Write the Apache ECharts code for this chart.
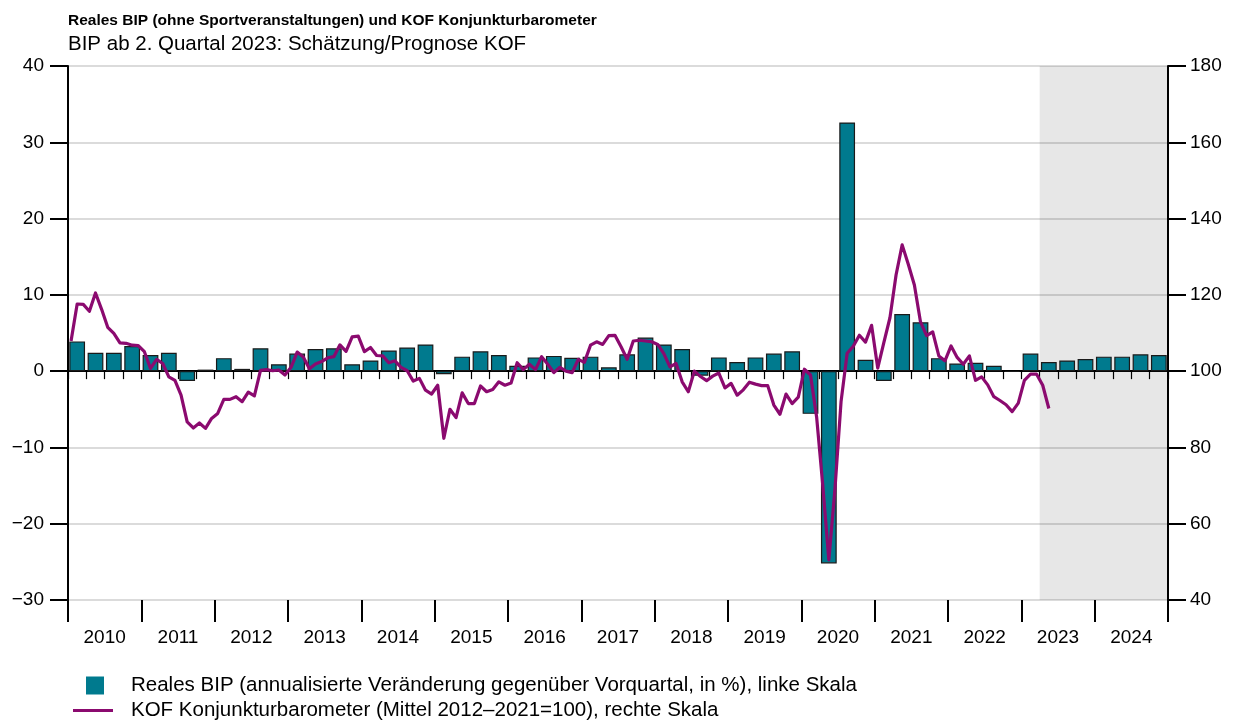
<!DOCTYPE html>
<html><head><meta charset="utf-8">
<script src="https://cdn.jsdelivr.net/npm/echarts@6/dist/echarts.min.js"></script>
<style>html,body{margin:0;padding:0;background:#fff}#c{width:1239px;height:722px}</style>
</head><body><div id="c"></div>
<script>
const titleText = 'Reales BIP (ohne Sportveranstaltungen) und KOF Konjunkturbarometer';
const subtitleText = 'BIP ab 2. Quartal 2023: Schätzung/Prognose KOF';
const bipName = 'Reales BIP (annualisierte Veränderung gegenüber Vorquartal, in %), linke Skala';
const kofName = 'KOF Konjunkturbarometer (Mittel 2012\u20132021=100), rechte Skala';
const years = ['2010','2011','2012','2013','2014','2015','2016','2017','2018','2019','2020','2021','2022','2023','2024'];
const quarters = [];
years.forEach(y => { for (let q = 1; q <= 4; q++) quarters.push(y + 'Q' + q); });
const leftTicks = [-30, -20, -10, 0, 10, 20, 30, 40];
const rightTicks = [40, 60, 80, 100, 120, 140, 160, 180];
const forecastStartQuarter = '2023Q2';

// Reales BIP, quarterly, annualised % change
const bip = [
  3.9, 2.4, 2.4, 3.3,
  2.1, 2.4, -1.3, 0.2,
  1.7, 0.3, 3.0, 0.9,
  2.3, 2.9, 3.0, 0.9,
  1.4, 2.7, 3.1, 3.5,
  -0.4, 1.9, 2.6, 2.1,
  0.7, 1.8, 2.0, 1.75,
  1.9, 0.5, 2.2, 4.4,
  3.5, 2.9, -0.6, 1.8,
  1.2, 1.8, 2.3, 2.6,
  -5.6, -25.2, 32.6, 1.5,
  -1.3, 7.5, 6.4, 1.7,
  1.0, 1.1, 0.7, -0.1,
  2.3, 1.2, 1.4, 1.6,
  1.9, 1.9, 2.2, 2.1
];

// KOF Konjunkturbarometer, monthly from Jan 2010 to May 2023
const kof = [
  107.9,117.6,117.5,115.7,120.5,116.2,111.5,109.9,107.4,107.3,106.8,106.7,
  105.1,100.7,103.1,102.0,98.5,97.6,93.7,86.7,85.1,86.4,85.0,87.6,
  88.9,92.6,92.6,93.3,92.0,94.5,93.5,100.2,100.4,100.1,100.3,99.0,
  101.0,105.0,103.7,100.6,101.9,102.5,103.5,103.8,106.9,105.2,109.0,109.2,
  105.1,106.2,104.1,104.0,102.2,102.7,101.0,100.1,97.4,98.1,95.0,94.0,
  96.3,82.4,90.0,87.8,94.3,91.5,91.5,96.1,94.6,95.2,97.2,96.3,
  96.9,102.2,100.4,101.8,100.4,103.8,101.8,99.6,101.0,100.0,99.6,103.1,
  102.3,106.8,107.7,107.0,109.3,109.4,106.4,103.1,107.9,108.1,107.9,107.7,
  107.0,104.6,101.1,102.0,97.2,94.6,100.0,98.6,97.5,98.7,99.5,95.6,
  96.8,93.7,95.1,97.1,96.6,96.2,96.2,91.1,88.7,94.0,91.5,93.2,
  100.5,99.0,88.0,70.2,50.5,69.0,92.0,104.7,106.5,109.4,107.6,112.0,
  100.8,107.5,114.0,125.2,133.1,128.0,122.6,112.9,109.3,110.3,104.0,102.7,
  106.6,103.6,101.8,104.0,97.6,98.5,96.4,93.3,92.3,91.2,89.4,91.6,
  97.6,99.2,99.2,96.3,90.2
];

const FONT = 'Liberation Sans, Arial, Helvetica, sans-serif';
const totalMonths = quarters.length * 3;
const kofPoints = kof.map((v, i) => [i + 0.5, v]);
const fcStartMonth = quarters.indexOf(forecastStartQuarter) * 3;

const chart = echarts.init(document.getElementById('c'), null, {renderer: 'canvas'});
chart.setOption({
  animation: false,
  backgroundColor: '#fff',
  textStyle: {fontFamily: FONT, color: '#000'},
  graphic: [
    {type: 'text', left: 68, top: 13, silent: true,
     style: {text: titleText, fontFamily: FONT, fontSize: 15.5, fontWeight: 'bold', fill: '#000'}},
    {type: 'text', left: 68, top: 34, silent: true,
     style: {text: subtitleText, fontFamily: FONT, fontSize: 20.5, fill: '#000'}}
  ],
  grid: {left: 68, right: 71, top: 66, bottom: 122, containLabel: false},
  legend: [
    {data: [bipName], left: 86, top: 675, padding: 0, itemWidth: 18, itemHeight: 18, icon: 'rect',
     itemStyle: {borderWidth: 0}, textStyle: {fontFamily: FONT, fontSize: 20.5, color: '#000', padding: [0,0,0,22]}},
    {data: [kofName], left: 73, top: 700, padding: 0, itemWidth: 40, itemHeight: 3, icon: 'rect',
     textStyle: {fontFamily: FONT, fontSize: 20.5, color: '#000', padding: [0,0,0,13]}}
  ],
  xAxis: [
    {type: 'category', data: quarters, position: 'bottom', boundaryGap: true,
     axisLine: {show: true, lineStyle: {color: '#000', width: 2}},
     axisTick: {show: true, interval: 0, length: 8, lineStyle: {color: '#000', width: 1.2}},
     axisLabel: {show: false}, splitLine: {show: false}},
    {type: 'category', data: years, position: 'bottom', boundaryGap: true,
     axisLine: {show: false},
     axisTick: {show: true, interval: 0, length: 22, lineStyle: {color: '#000', width: 2}},
     axisLabel: {show: true, interval: 0, fontFamily: FONT, fontSize: 19, color: '#000', margin: 28},
     splitLine: {show: false}},
    {type: 'value', min: 0, max: totalMonths, show: false, position: 'bottom'}
  ],
  yAxis: [
    {type: 'value', min: leftTicks[0], max: leftTicks[leftTicks.length-1], interval: 10, position: 'left',
     axisLine: {show: true, lineStyle: {color: '#000', width: 2}},
     axisTick: {show: true, length: 18, lineStyle: {color: '#000', width: 2}},
     axisLabel: {fontFamily: FONT, fontSize: 19, color: '#000', margin: 24,
       formatter: v => (v < 0 ? '\u2212' + Math.abs(v) : String(v))},
     splitLine: {show: true, lineStyle: {color: '#cfcfcf', width: 1.5}}},
    {type: 'value', min: rightTicks[0], max: rightTicks[rightTicks.length-1], interval: 20, position: 'right',
     axisLine: {show: true, lineStyle: {color: '#000', width: 2}},
     axisTick: {show: true, length: 18, lineStyle: {color: '#000', width: 2}},
     axisLabel: {fontFamily: FONT, fontSize: 19, color: '#000', margin: 22},
     splitLine: {show: false}}
  ],
  series: [
    {name: 'forecast', type: 'line', xAxisIndex: 2, yAxisIndex: 1, z: 0, silent: true,
     data: [[fcStartMonth, 100]], showSymbol: false, lineStyle: {opacity: 0},
     markArea: {silent: true, itemStyle: {color: 'rgba(0,0,0,0.095)'},
       data: [[{xAxis: fcStartMonth}, {xAxis: totalMonths}]]}},
    {name: bipName, type: 'bar', xAxisIndex: 0, yAxisIndex: 0, z: 2, data: bip, barWidth: '86%',
     itemStyle: {color: '#007a8e', borderColor: '#1a1a1a', borderWidth: 1.2}},
    {name: kofName, type: 'line', xAxisIndex: 2, yAxisIndex: 1, z: 3, data: kofPoints,
     showSymbol: false, symbol: 'none',
     lineStyle: {color: '#8b0a6f', width: 3.2, join: 'round'}, itemStyle: {color: '#8b0a6f'}}
  ]
});
</script></body></html>
